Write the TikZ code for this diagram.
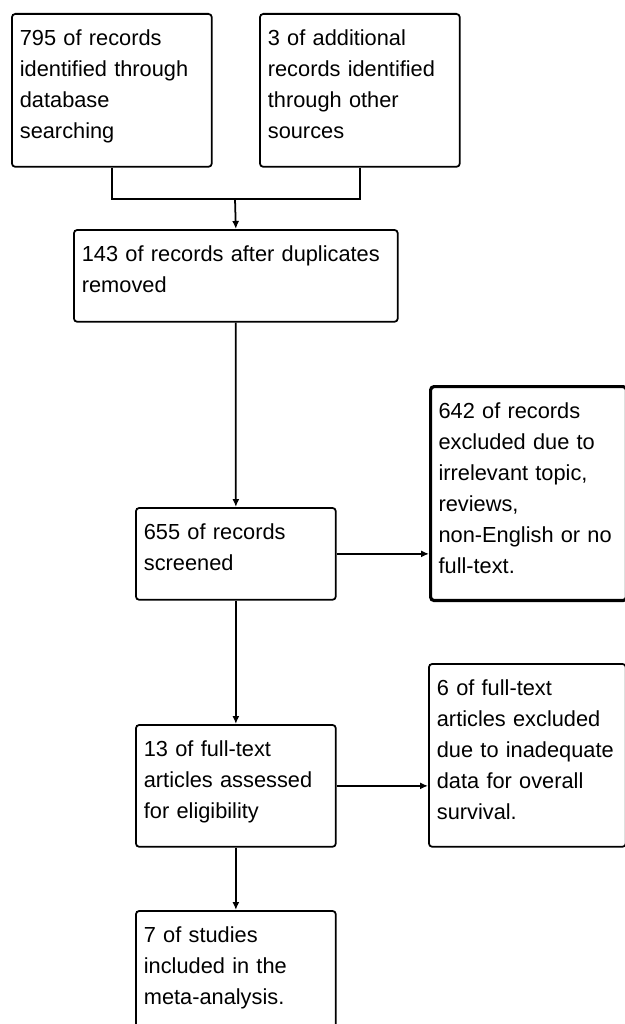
\documentclass[tikz,border=0pt]{standalone}
\usepackage{fontspec}
\setmainfont{Liberation Sans}
\usetikzlibrary{positioning}
\usetikzlibrary{arrows.meta}
\tikzset{>={Latex[width=1.4mm,length=1.6mm]}}

\begin{document}
\begin{tikzpicture}[x=0.02cm, y=-0.02cm]
% Define styles
\tikzstyle{box} = [draw, rounded corners=2pt, line width=1pt, anchor=north west, align=left, text width=3.68cm, inner xsep=0.16cm, inner ysep=0pt, text height=0.64cm, font=\fontsize{12.4pt}{17.6pt}\selectfont]
\tikzstyle{line} = [line width=1pt]
\clip (0,0) rectangle (625,1024);
\fill[white] (0,0) rectangle (625,1024);
% Define nodes
\node[box, text depth=2.42cm] (db) at (11,13) {795 of records\\identified through\\database\\searching};
\node[box, text depth=2.42cm] (other) at (259,13) {3 of additional\\records identified\\through other\\sources};
\node[box, text depth=1.2cm, text width=6.16cm] (dup) at (73,229) {143 of records after duplicates\\removed};
\node[box, text depth=1.2cm] (screen) at (135,507) {655 of records\\screened};
\node[box, text depth=3.64cm, text width=3.6cm, line width=1.8pt] (excl) at (429,385) {642 of records\\excluded due to\\irrelevant topic,\\reviews,\\non-English or no\\full-text.};
\node[box, text depth=1.8cm] (full) at (135,724) {13 of full-text\\articles assessed\\for eligibility};
\node[box, text depth=3.02cm, text width=3.62cm] (fexcl) at (428,663) {6 of full-text\\articles excluded\\due to inadequate\\data for overall\\survival.};
\node[box, text depth=3cm] (incl) at (135,910) {7 of studies\\included in the\\meta-analysis.};
\coordinate (join) at (235,199);
% Connect the nodes
\draw[line] (db.south) |- (join);
\draw[line] (other.south) |- (join);
\draw[line, ->] (join) -- (dup.north);
\draw[line, ->] (dup.south) -- (screen.north);
\draw[line, ->] (screen.east) -- (screen.east -| excl.west);
\draw[line, ->] (screen.south) -- (full.north);
\draw[line, ->] (full.east) -- (full.east -| fexcl.west);
\draw[line, ->] (full.south) -- (incl.north);
\end{tikzpicture}
\end{document}
